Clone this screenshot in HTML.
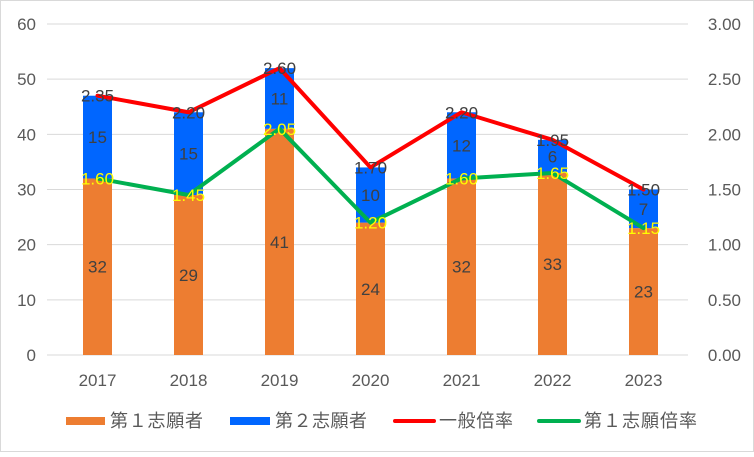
<!DOCTYPE html>
<html><head><meta charset="utf-8"><style>
body{margin:0;background:#fff}
svg text{font-family:"Liberation Sans","Noto Sans CJK JP",sans-serif}
</style></head><body>
<svg id="c" width="754" height="452">
<rect x="0.5" y="0.5" width="753" height="451" fill="#fff" stroke="#d9d9d9"/>
<g id="g"></g>
<g font-size="18" fill="#595959">
<rect x="66" y="417" width="39" height="8" fill="#ED7D31"/>
<text x="110" y="427" textLength="93">第１志願者</text>
<rect x="230" y="417" width="40" height="8" fill="#0066FF"/>
<text x="275" y="427" textLength="92">第２志願者</text>
<line x1="395" y1="421" x2="434" y2="421" stroke="#FF0000" stroke-width="4" stroke-linecap="round"/>
<text x="439" y="427" textLength="74">一般倍率</text>
<line x1="539" y1="421" x2="579" y2="421" stroke="#00B050" stroke-width="4" stroke-linecap="round"/>
<text x="584" y="427" textLength="113">第１志願倍率</text>
</g>
</svg>
<script>
const categories=["2017","2018","2019","2020","2021","2022","2023"];
const firstApplicants=[32,29,41,24,32,33,23];
const secondApplicants=[15,15,11,10,12,6,7];
const generalRatio=[2.35,2.20,2.60,1.70,2.20,1.95,1.50];
const firstRatio=[1.60,1.45,2.05,1.20,1.60,1.65,1.15];
const leftTicks=[0,10,20,30,40,50,60];
const rightTicks=["0.00","0.50","1.00","1.50","2.00","2.50","3.00"];

const NS="http://www.w3.org/2000/svg";
const g=document.getElementById('g');
const y0=355,yTop=24,x0=52,step=91;
const yL=v=>y0-(v/60)*(y0-yTop);
const yR=v=>y0-(v/3)*(y0-yTop);
const xC=i=>x0+step*(i+0.5);
function mk(t,a,p){const e=document.createElementNS(NS,t);for(const k in a)e.setAttribute(k,a[k]);(p||g).appendChild(e);return e;}
leftTicks.forEach((v,i)=>{
  const l=mk('line',{x1:47,x2:688,y1:yL(v),y2:yL(v),stroke:'#d9d9d9','stroke-width':1});
  
  
  const t=mk('text',{x:36,y:yL(v)+6,'text-anchor':'end','font-size':17,fill:'#595959'});t.textContent=v;
  
  
  const r=mk('text',{x:741,y:yL(v)+6,'text-anchor':'end','font-size':17,fill:'#595959'});r.textContent=rightTicks[i];
  
  
});
const bw=29;
categories.forEach((c,i)=>{
  const x=xC(i)-bw/2;
  const a=firstApplicants[i],b=secondApplicants[i];
  const r1=mk('rect',{x:x,y:yL(a),width:bw,height:y0-yL(a),fill:'#ED7D31'});
  
  
  const r2=mk('rect',{x:x,y:yL(a+b),width:bw,height:yL(a)-yL(a+b),fill:'#0066FF'});
  
  
  const t1=mk('text',{x:xC(i),y:(yL(a)+y0)/2+6,'text-anchor':'middle','font-size':17,fill:'#404040'});t1.textContent=a;
  
  
  const t2=mk('text',{x:xC(i),y:(yL(a)+yL(a+b))/2+6,'text-anchor':'middle','font-size':17,fill:'#404040'});t2.textContent=b;
  
  
  const xt=mk('text',{x:xC(i),y:386,'text-anchor':'middle','font-size':17,fill:'#595959'});xt.textContent=c;
  
  
});
function line(vals,color,lblColor,name){
  const p=mk('polyline',{points:vals.map((v,i)=>xC(i)+','+yR(v)).join(' '),fill:'none',stroke:color,'stroke-width':4,'stroke-linejoin':'round','stroke-linecap':'round'});
  
  
  vals.forEach((v,i)=>{
    const t=mk('text',{x:xC(i),y:yR(v)+6,'text-anchor':'middle','font-size':17,fill:lblColor});t.textContent=v.toFixed(2);
    
    
  });
}
line(generalRatio,'#FF0000','#404040','general-ratio');
line(firstRatio,'#00B050','#FFFF00','first-ratio');
</script>
</body></html>
